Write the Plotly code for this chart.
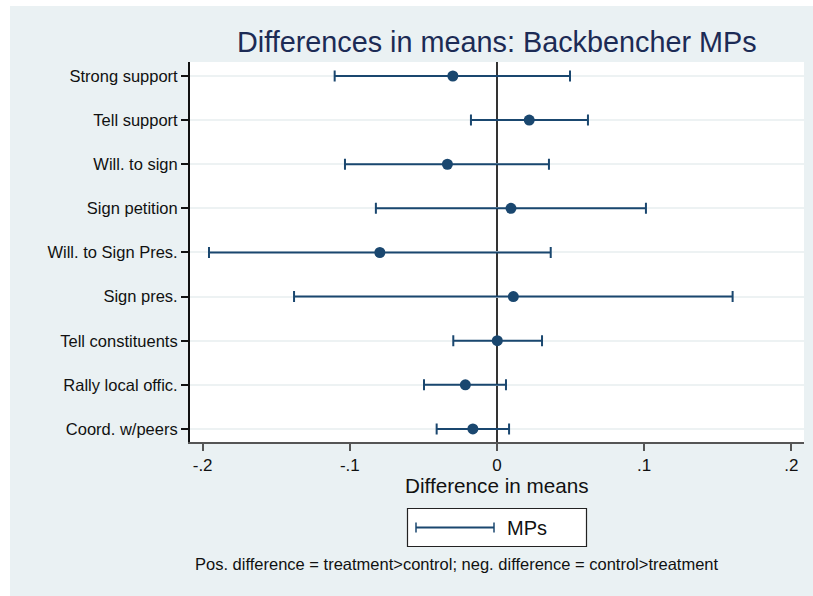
import plotly.graph_objects as go

# Outcome labels, top to bottom
outcomes = [
    "Strong support",
    "Tell support",
    "Will. to sign",
    "Sign petition",
    "Will. to Sign Pres.",
    "Sign pres.",
    "Tell constituents",
    "Rally local offic.",
    "Coord. w/peers",
]

# Difference in means with lower / upper confidence bounds
diff = [-0.0300, 0.0219, -0.0337, 0.0095, -0.0796, 0.0111, 0.0002, -0.0215, -0.0164]
ci_low = [-0.1103, -0.0177, -0.1033, -0.0823, -0.1957, -0.1379, -0.0297, -0.0496, -0.0410]
ci_high = [0.0496, 0.0618, 0.0353, 0.1012, 0.0365, 0.1601, 0.0306, 0.0061, 0.0082]

xtick_vals = [-0.2, -0.1, 0, 0.1, 0.2]
xtick_text = ["-.2", "-.1", "0", ".1", ".2"]

NAVY = "#1a476f"
PANEL = "#eaf1f3"
FONT = "Liberation Sans, Arial, Helvetica, sans-serif"

W, H = 813, 596
L, R, T, B = 190, 9, 62, 154
pw, ph = W - L - R, H - T - B


def px_x(p):
    return (p - L) / pw


def px_y(p):
    return (H - B - p) / ph


ypos = list(range(len(outcomes)))

fig = go.Figure()
fig.add_trace(
    go.Scatter(
        x=diff,
        y=ypos,
        mode="markers",
        marker=dict(color=NAVY, size=11),
        error_x=dict(
            type="data",
            symmetric=False,
            array=[h - d for h, d in zip(ci_high, diff)],
            arrayminus=[d - l for d, l in zip(diff, ci_low)],
            color=NAVY,
            thickness=2,
            width=5.5,
        ),
        showlegend=False,
        hoverinfo="skip",
    )
)

shapes = [
    # white page border on the left and top of the graph panel
    dict(type="rect", xref="paper", yref="paper",
         x0=px_x(0), x1=px_x(10), y0=px_y(0), y1=px_y(H),
         fillcolor="white", line=dict(width=0), layer="below"),
    dict(type="rect", xref="paper", yref="paper",
         x0=px_x(0), x1=px_x(W), y0=px_y(0), y1=px_y(6),
         fillcolor="white", line=dict(width=0), layer="below"),
    # plot region
    dict(type="rect", xref="paper", yref="paper",
         x0=0, x1=1, y0=0, y1=1,
         fillcolor="white", line=dict(width=0), layer="below"),
    # zero reference line
    dict(type="line", xref="x", yref="paper", x0=0, x1=0, y0=0, y1=1,
         line=dict(color="black", width=1.6), layer="between"),
    # legend box
    dict(type="rect", xref="paper", yref="paper",
         x0=px_x(407.5), x1=px_x(586.5), y0=px_y(508.5), y1=px_y(546.5),
         fillcolor="white", line=dict(color="#222222", width=1.2)),
    # legend key: capped line
    dict(type="line", xref="paper", yref="paper",
         x0=px_x(416), x1=px_x(494), y0=px_y(527.5), y1=px_y(527.5),
         line=dict(color=NAVY, width=2)),
    dict(type="line", xref="paper", yref="paper",
         x0=px_x(416), x1=px_x(416), y0=px_y(522.5), y1=px_y(532.5),
         line=dict(color=NAVY, width=1.5)),
    dict(type="line", xref="paper", yref="paper",
         x0=px_x(494), x1=px_x(494), y0=px_y(522.5), y1=px_y(532.5),
         line=dict(color=NAVY, width=1.5)),
]

annotations = [
    dict(text="Differences in means: Backbencher MPs", xref="paper", yref="paper",
         x=0.5, y=px_y(42), xanchor="center", yanchor="middle", showarrow=False,
         font=dict(family=FONT, size=28.8, color="#1c2b55")),
    dict(text="Difference in means", xref="paper", yref="paper",
         x=0.5, y=px_y(486), xanchor="center", yanchor="middle", showarrow=False,
         font=dict(family=FONT, size=20.7, color="#111111")),
    dict(text="MPs", xref="paper", yref="paper",
         x=px_x(505), y=px_y(528), xanchor="left", yanchor="middle", showarrow=False,
         font=dict(family=FONT, size=20, color="#111111")),
    dict(text="Pos. difference = treatment>control; neg. difference = control>treatment",
         xref="paper", yref="paper",
         x=px_x(193), y=px_y(564), xanchor="left", yanchor="middle", showarrow=False,
         font=dict(family=FONT, size=16.5, color="#111111")),
]

fig.update_layout(
    width=W,
    height=H,
    margin=dict(l=L, r=R, t=T, b=B, pad=0),
    paper_bgcolor=PANEL,
    plot_bgcolor="white",
    font=dict(family=FONT, size=16, color="#111111"),
    shapes=shapes,
    annotations=annotations,
    showlegend=False,
)

fig.update_xaxes(
    range=[-0.2086, 0.2086],
    tickvals=xtick_vals,
    ticktext=xtick_text,
    ticks="outside",
    ticklen=7,
    tickwidth=1.5,
    tickcolor="#555555",
    showline=True,
    linecolor="#555555",
    linewidth=2,
    showgrid=False,
    zeroline=False,
    tickfont=dict(family=FONT, size=17, color="#111111"),
    fixedrange=True,
)

fig.update_yaxes(
    range=[8.295, -0.317],
    tickvals=ypos,
    ticktext=outcomes,
    ticks="outside",
    ticklen=7,
    tickwidth=1.5,
    tickcolor="#111111",
    showline=True,
    linecolor="#111111",
    linewidth=2,
    showgrid=True,
    gridcolor="#edf2f3",
    gridwidth=2,
    zeroline=False,
    tickfont=dict(family=FONT, size=16.5, color="#111111"),
    fixedrange=True,
)

fig.write_html("out.html")
